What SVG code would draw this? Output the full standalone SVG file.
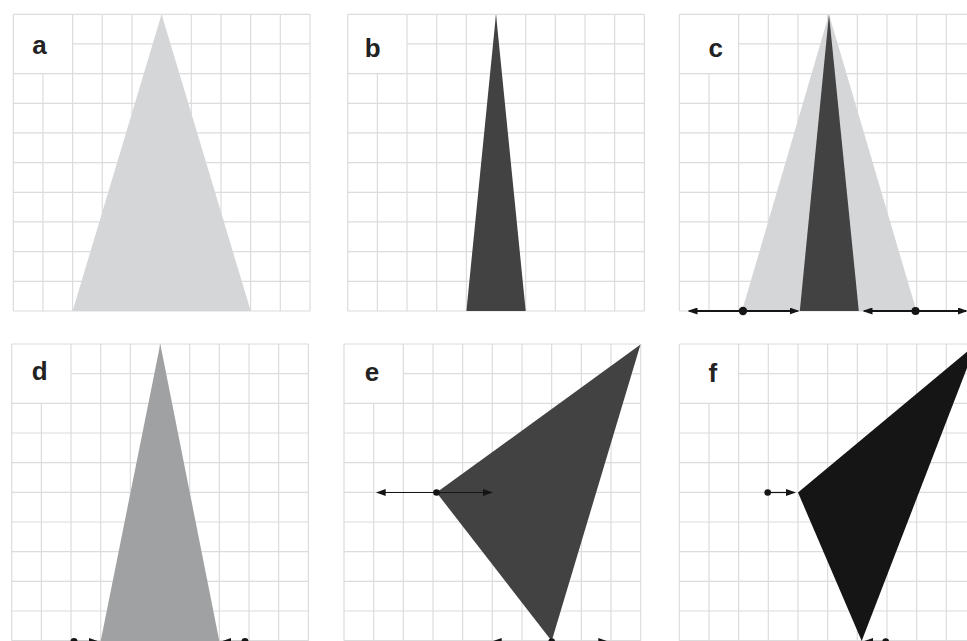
<svg xmlns="http://www.w3.org/2000/svg" xmlns:xlink="http://www.w3.org/1999/xlink" width="967" height="641" viewBox="0 0 967 641">
  <style>
    .grid { fill: none; stroke: #dcdcdc; stroke-width: 1.2; }
    .lbl { font-family: "Liberation Sans", Arial, sans-serif; font-weight: bold; font-size: 26px; fill: #222222; text-anchor: middle; }
    .light { fill: #d5d6d8; }
    .dark { fill: #424242; }
    .mid { fill: #a0a1a3; }
    .black { fill: #151515; }
    .arr { stroke: #151515; fill: none; marker-end: url(#ah); }
    .thick { stroke-width: 1.8; }
    .thin { stroke-width: 1.2; }
    .dot { fill: #151515; }
  </style>
  <defs>
    <path id="grid" class="grid" d="M0,0V296.7 M29.67,59.33V296.7 M59.33,0V296.7 M89,0V296.7 M118.67,0V296.7 M148.33,0V296.7 M178,0V296.7 M207.67,0V296.7 M237.33,0V296.7 M267,0V296.7 M296.7,0V296.7 M0,0H296.7 M59.33,29.67H296.7 M0,59.33H296.7 M0,89H296.7 M0,118.67H296.7 M0,148.33H296.7 M0,178H296.7 M0,207.67H296.7 M0,237.33H296.7 M0,267H296.7 M0,296.7H296.7"/>
    <marker id="ah" viewBox="0 0 10 7" refX="8" refY="3.5" markerWidth="10" markerHeight="7" markerUnits="userSpaceOnUse" orient="auto">
      <path d="M0,0 L10,3.5 L0,7 z" fill="#151515"/>
    </marker>
  </defs>
  <rect width="967" height="641" fill="#ffffff"/>

  <g id="panel-a">
    <use xlink:href="#grid" href="#grid" x="13.3" y="14.3"/>
    <polygon class="light" points="161.6,14.3 72.6,311 250.7,311"/>
    <text class="lbl" x="39.5" y="53.5">a</text>
  </g>

  <g id="panel-b">
    <use xlink:href="#grid" href="#grid" x="347.7" y="14.3"/>
    <polygon class="dark" points="496,14.3 466.4,311 525.7,311"/>
    <text class="lbl" x="372.8" y="57">b</text>
  </g>

  <g id="panel-c">
    <use xlink:href="#grid" href="#grid" x="679.3" y="14.3"/>
    <polygon class="light" points="829,14.3 742,311 916.5,311"/>
    <polygon class="dark" points="829,14.3 799.8,311 858.8,311"/>
    <text class="lbl" x="715.8" y="57">c</text>
  </g>

  <g id="panel-d">
    <use xlink:href="#grid" href="#grid" x="11.7" y="344"/>
    <polygon class="mid" points="160.3,344 100.7,641 219.3,641"/>
    <text class="lbl" x="39.8" y="380">d</text>
  </g>

  <g id="panel-e">
    <use xlink:href="#grid" href="#grid" x="344" y="344"/>
    <polygon class="dark" points="640.5,344.5 436.5,492.5 551.7,641"/>
    <text class="lbl" x="372" y="381">e</text>
  </g>

  <g id="panel-f">
    <use xlink:href="#grid" href="#grid" x="679.3" y="344"/>
    <polygon class="black" points="976.3,344 798,492.5 861.7,641"/>
    <text class="lbl" x="712.8" y="381.5">f</text>
  </g>

  <g id="connectors">
    <!-- panel c -->
    <line class="arr thick" x1="743" y1="311" x2="689.5" y2="311"/>
    <line class="arr thick" x1="743" y1="311" x2="797.5" y2="311"/>
    <circle class="dot" cx="743" cy="311" r="4.2"/>
    <line class="arr thick" x1="915.5" y1="311" x2="864.5" y2="311"/>
    <line class="arr thick" x1="915.5" y1="311" x2="966" y2="311"/>
    <circle class="dot" cx="915.5" cy="311" r="4"/>
    <!-- panel d -->
    <line class="arr thin" x1="74" y1="641.5" x2="97" y2="641.5"/>
    <circle class="dot" cx="74" cy="641.5" r="3.5"/>
    <line class="arr thin" x1="245" y1="641.5" x2="223" y2="641.5"/>
    <circle class="dot" cx="245" cy="641.5" r="3.5"/>
    <!-- panel e -->
    <line class="arr thin" x1="436.5" y1="492.5" x2="377.7" y2="492.5"/>
    <line class="arr thin" x1="436.5" y1="492.5" x2="491" y2="492.5"/>
    <circle class="dot" cx="436.5" cy="492.5" r="3.3"/>
    <line class="arr thin" x1="551.7" y1="641.5" x2="493.7" y2="641.5"/>
    <line class="arr thin" x1="551.7" y1="641.5" x2="606.3" y2="641.5"/>
    <circle class="dot" cx="551.7" cy="641.5" r="3.3"/>
    <!-- panel f -->
    <line class="arr thin" x1="767.7" y1="492.5" x2="794" y2="492.5"/>
    <circle class="dot" cx="767.7" cy="492.5" r="3.3"/>
    <line class="arr thin" x1="885.7" y1="641.5" x2="865" y2="641.5"/>
    <circle class="dot" cx="885.7" cy="641.5" r="3.3"/>
  </g>
</svg>
